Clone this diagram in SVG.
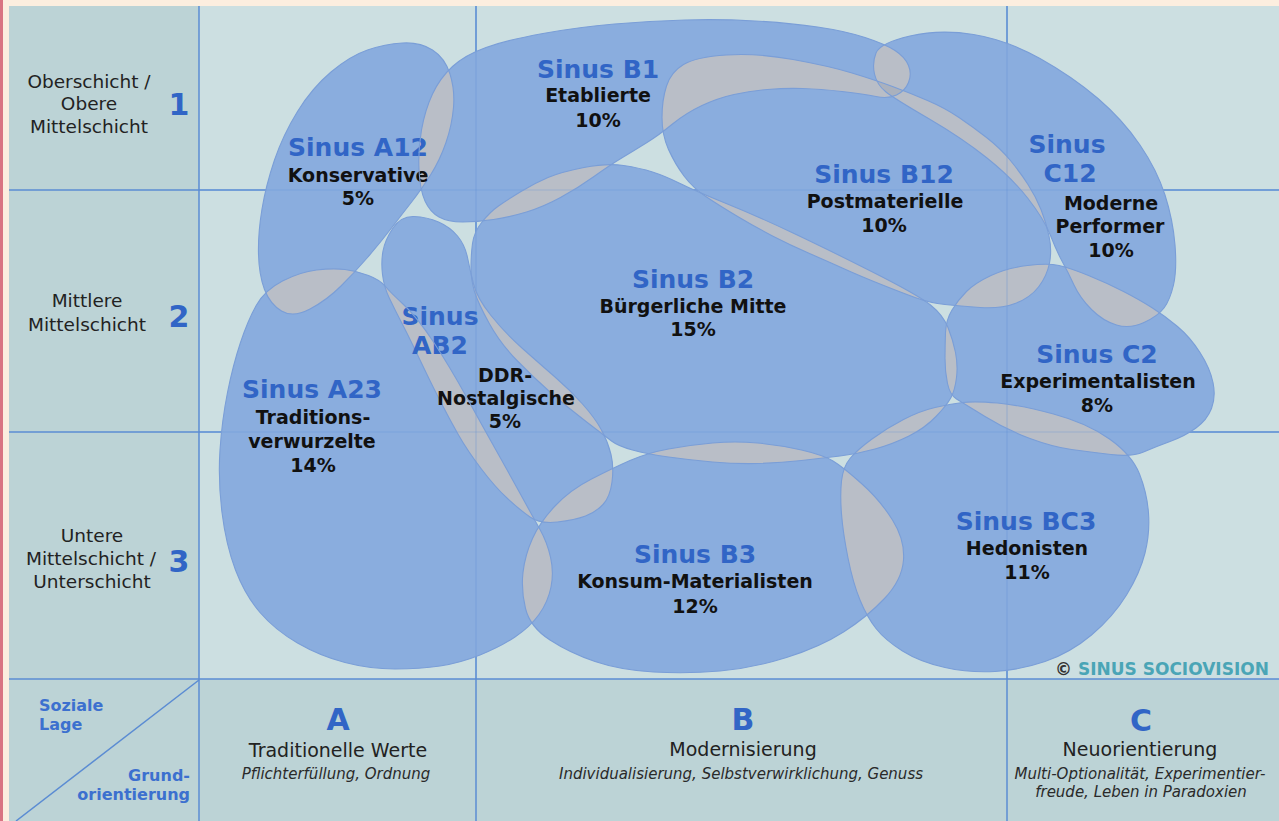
<svg xmlns="http://www.w3.org/2000/svg" width="1279" height="821" viewBox="0 0 1279 821">
<style>
.blob{fill:#8AADDE}
.ov{fill:#B9BEC7}
.ov3{fill:#AAB1BD}
.outline{fill:none;stroke:#7A9ED7;stroke-width:1.1}
.grid{stroke:#5B8CD3;stroke-width:1.5;fill:none}
.gridf{stroke:#5B8CD3;stroke-width:1.2;stroke-opacity:.3;fill:none}
text{font-family:"DejaVu Sans",Verdana,sans-serif}
.t{font-size:25px;font-weight:bold;fill:#3165C6;text-anchor:middle}
.s{font-size:19px;font-weight:bold;fill:#111;text-anchor:middle}
.row{font-size:18.5px;fill:#222;text-anchor:middle}
.num{font-size:30px;font-weight:bold;fill:#3165C6;text-anchor:middle}
.cat{font-size:19px;fill:#222;text-anchor:middle}
.it{font-size:15px;font-style:italic;fill:#2A2A2A;text-anchor:middle}
.lage{font-size:16px;font-weight:bold;fill:#3C70CF}
</style>
<defs>
<path id="s-A12" d="M331,72 Q350,56 367.5,50 Q385,44 402.5,43 Q420,42 432.5,50 Q445,58 450,74 Q455,90 453.5,107.5 Q452,125 446,142.5 Q440,160 430.5,175 Q421,190 412,201.5 Q403,213 391.5,228 Q380,243 367.5,257.5 Q355,272 341,286 Q327,300 310,309 Q293,318 281.5,311 Q270,304 264.5,289.5 Q259,275 258.5,254 Q258,233 262,209 Q266,185 274.5,160 Q283,135 297.5,111.5 Q312,88 331,72 Z"/>
<path id="s-B1" d="M419,170 Q418,150 421.5,130 Q425,110 432.5,94 Q440,78 452.5,66.5 Q465,55 486,47.5 Q507,40 543,33.5 Q579,27 614.5,24 Q650,21 685,20 Q720,19 755,21 Q790,23 817.5,27 Q845,31 865,37.5 Q885,44 895,50.5 Q905,57 908.5,65.5 Q912,74 908.5,82.5 Q905,91 896.5,95 Q888,99 876,96.5 Q864,94 842,91.5 Q820,89 802.5,88.5 Q785,88 767.5,89.5 Q750,91 734,94.5 Q718,98 702,105.5 Q686,113 672.5,124 Q659,135 647,142.5 Q635,150 622.5,157.5 Q610,165 594,176.5 Q578,188 560.5,197.5 Q543,207 526.5,212 Q510,217 493.5,219.5 Q477,222 462.5,222 Q448,222 439,217 Q430,212 425,201 Q420,190 419,170 Z"/>
<path id="s-B12" d="M662,117.5 Q662,100 666.5,86 Q671,72 683.5,64.5 Q696,57 726.5,55 Q757,53 793,59.5 Q829,66 852,73 Q875,80 892.5,86.5 Q910,93 927.5,100.5 Q945,108 959,117.5 Q973,127 986.5,137.5 Q1000,148 1010,160 Q1020,172 1028,184.5 Q1036,197 1041,209.5 Q1046,222 1049,236 Q1052,250 1049.5,263 Q1047,276 1038.5,287 Q1030,298 1015,303.5 Q1000,309 980,307.5 Q960,306 945,304.5 Q930,303 915,297.5 Q900,292 880,284 Q860,276 844.5,269 Q829,262 809.5,253.5 Q790,245 773.5,236.5 Q757,228 738.5,217 Q720,206 706.5,197 Q693,188 684,176 Q675,164 668.5,149.5 Q662,135 662,117.5 Z"/>
<path id="s-C12" d="M876,53 Q880,43 910,36 Q940,29 973.5,34.5 Q1007,40 1040,58.5 Q1073,77 1098,98.5 Q1123,120 1140,145 Q1157,170 1165,195 Q1173,220 1175,245 Q1177,270 1173.5,285 Q1170,300 1164,308 Q1158,316 1144,322.5 Q1130,329 1116.5,325 Q1103,321 1091.5,309.5 Q1080,298 1074,285 Q1068,272 1062.5,262 Q1057,252 1050.5,235.5 Q1044,219 1028,198.5 Q1012,178 987,158 Q962,138 928.5,118.5 Q895,99 886,92 Q877,85 874.5,74 Q872,63 876,53 Z"/>
<path id="s-C2" d="M945,358.5 Q945,345 945.5,332.5 Q946,320 952,310 Q958,300 966.5,291.5 Q975,283 991,275.5 Q1007,268 1027.5,265.5 Q1048,263 1059,265.5 Q1070,268 1088.5,275.5 Q1107,283 1123.5,291.5 Q1140,300 1152.5,308 Q1165,316 1177.5,326.5 Q1190,337 1200,352.5 Q1210,368 1213,382.5 Q1216,397 1211.5,408.5 Q1207,420 1196,428 Q1185,436 1170,441.5 Q1155,447 1143.5,452 Q1132,457 1111,454.5 Q1090,452 1071.5,449.5 Q1053,447 1030,438.5 Q1007,430 985,416.5 Q963,403 956.5,399 Q950,395 947.5,383.5 Q945,372 945,358.5 Z"/>
<path id="s-B2" d="M471,267.5 Q471,255 472.5,243.5 Q474,232 482,222 Q490,212 498.5,206 Q507,200 521,191.5 Q535,183 548,177.5 Q561,172 584,167.5 Q607,163 623.5,165.5 Q640,168 652.5,172 Q665,176 679,183 Q693,190 725,203 Q757,216 793,233 Q829,250 873.5,272.5 Q918,295 930.5,305 Q943,315 948,327.5 Q953,340 955.5,352.5 Q958,365 956.5,377.5 Q955,390 951,397.5 Q947,405 936,416.5 Q925,428 909,436 Q893,444 875,449 Q857,454 840,456 Q823,458 801.5,460.5 Q780,463 757.5,463.5 Q735,464 712.5,462 Q690,460 668.5,457 Q647,454 632.5,450 Q618,446 611.5,441 Q605,436 586,421.5 Q567,407 550,392 Q533,377 516.5,360 Q500,343 489,323 Q478,303 474.5,291.5 Q471,280 471,267.5 Z"/>
<path id="s-AB2" d="M383,251 Q385,240 393,228 Q401,216 414,216.5 Q427,217 438.5,222 Q450,227 457.5,236 Q465,245 467.5,257.5 Q470,270 473.5,284 Q477,298 491,315.5 Q505,333 522.5,348.5 Q540,364 555,377 Q570,390 582.5,404 Q595,418 601.5,430 Q608,442 611,454.5 Q614,467 612,482 Q610,497 603,504.5 Q596,512 585.5,516 Q575,520 557.5,522 Q540,524 530,517 Q520,510 507.5,498.5 Q495,487 481,468.5 Q467,450 458.5,435 Q450,420 441.5,403.5 Q433,387 426.5,373.5 Q420,360 413.5,346.5 Q407,333 401,321.5 Q395,310 389.5,298.5 Q384,287 382.5,274.5 Q381,262 383,251 Z"/>
<path id="s-A23" d="M256.5,305 Q265,290 282.5,281 Q300,272 316.5,270 Q333,268 345,269.5 Q357,271 368.5,275.5 Q380,280 385,286 Q390,292 403.5,304.5 Q417,317 433.5,342 Q450,367 466.5,397 Q483,427 496.5,451 Q510,475 521.5,496 Q533,517 540,529.5 Q547,542 550.5,557 Q554,572 551,587 Q548,602 539,614.5 Q530,627 515,637 Q500,647 480,655 Q460,663 440,666 Q420,669 395,669 Q370,669 345,662.5 Q320,656 297.5,643 Q275,630 260,612.5 Q245,595 235.5,570 Q226,545 222,512.5 Q218,480 220,450 Q222,420 227.5,392.5 Q233,365 240.5,342.5 Q248,320 256.5,305 Z"/>
<path id="s-B3" d="M532.5,538.5 Q540,522 555,506 Q570,490 591.5,479 Q613,468 630,460.5 Q647,453 668.5,449 Q690,445 712.5,443 Q735,441 757.5,443 Q780,445 801.5,450 Q823,455 833,461 Q843,467 861.5,483.5 Q880,500 892.5,520 Q905,540 903.5,560 Q902,580 884.5,598.5 Q867,617 843.5,632 Q820,647 786.5,657.5 Q753,668 720,671 Q687,674 653.5,672 Q620,670 595,661.5 Q570,653 550,640 Q530,627 525.5,608.5 Q521,590 523,572.5 Q525,555 532.5,538.5 Z"/>
<path id="s-BC3" d="M841.5,481 Q843,467 850,458.5 Q857,450 872,439 Q887,428 903.5,419.5 Q920,411 935,407.5 Q950,404 962.5,402.5 Q975,401 997.5,403 Q1020,405 1053.5,414 Q1087,423 1109.5,439 Q1132,455 1139.5,474 Q1147,493 1148.5,513 Q1150,533 1145,553 Q1140,573 1126.5,595 Q1113,617 1091.5,635 Q1070,653 1045,661.5 Q1020,670 995,671.5 Q970,673 945,667.5 Q920,662 902.5,651 Q885,640 876,628.5 Q867,617 860,600 Q853,583 848,558 Q843,533 841.5,514 Q840,495 841.5,481 Z"/>
<clipPath id="c-A12"><use href="#s-A12"/></clipPath>
<clipPath id="c-B1"><use href="#s-B1"/></clipPath>
<clipPath id="c-B12"><use href="#s-B12"/></clipPath>
<clipPath id="c-C12"><use href="#s-C12"/></clipPath>
<clipPath id="c-C2"><use href="#s-C2"/></clipPath>
<clipPath id="c-B2"><use href="#s-B2"/></clipPath>
<clipPath id="c-AB2"><use href="#s-AB2"/></clipPath>
<clipPath id="c-A23"><use href="#s-A23"/></clipPath>
<clipPath id="c-B3"><use href="#s-B3"/></clipPath>
</defs>

<g id="background">
<rect x="0" y="0" width="1279" height="821" fill="#FCEEDF"/>
<rect x="0" y="0" width="3" height="821" fill="#D97482"/>
<rect x="9" y="6" width="1270" height="815" fill="#CCDFE1"/>
<rect x="9" y="6" width="190" height="673" fill="#BCD3D6"/>
<rect x="9" y="679" width="1270" height="142" fill="#BCD3D6"/>
</g>

<g id="grid" class="grid">
<line x1="9" y1="190" x2="1279" y2="190"/>
<line x1="9" y1="432" x2="1279" y2="432"/>
<line x1="9" y1="679" x2="1279" y2="679"/>
<line x1="199" y1="6" x2="199" y2="821"/>
<line x1="476" y1="6" x2="476" y2="821"/>
<line x1="1007" y1="6" x2="1007" y2="821"/>
<line x1="199" y1="680" x2="16" y2="821"/>
</g>

<g id="fills">
<use href="#s-A12" class="blob"/>
<use href="#s-B1" class="blob"/>
<use href="#s-B12" class="blob"/>
<use href="#s-C12" class="blob"/>
<use href="#s-C2" class="blob"/>
<use href="#s-B2" class="blob"/>
<use href="#s-AB2" class="blob"/>
<use href="#s-A23" class="blob"/>
<use href="#s-B3" class="blob"/>
<use href="#s-BC3" class="blob"/>
</g>

<g id="overlaps">
<use href="#s-B1" class="ov" clip-path="url(#c-A12)"/>
<use href="#s-A23" class="ov" clip-path="url(#c-A12)"/>
<use href="#s-B2" class="ov" clip-path="url(#c-B1)"/>
<use href="#s-B12" class="ov" clip-path="url(#c-B1)"/>
<use href="#s-C12" class="ov" clip-path="url(#c-B1)"/>
<use href="#s-C12" class="ov" clip-path="url(#c-B12)"/>
<use href="#s-B2" class="ov" clip-path="url(#c-B12)"/>
<use href="#s-C2" class="ov" clip-path="url(#c-B12)"/>
<use href="#s-AB2" class="ov" clip-path="url(#c-B2)"/>
<use href="#s-C2" class="ov" clip-path="url(#c-B2)"/>
<use href="#s-BC3" class="ov" clip-path="url(#c-B2)"/>
<use href="#s-B3" class="ov" clip-path="url(#c-B2)"/>
<use href="#s-A23" class="ov" clip-path="url(#c-AB2)"/>
<use href="#s-B3" class="ov" clip-path="url(#c-AB2)"/>
<use href="#s-B3" class="ov" clip-path="url(#c-A23)"/>
<use href="#s-BC3" class="ov" clip-path="url(#c-B3)"/>
<use href="#s-BC3" class="ov" clip-path="url(#c-C2)"/>
<use href="#s-C2" class="ov" clip-path="url(#c-C12)"/>
<g clip-path="url(#c-C12)"><use href="#s-B12" class="ov3" clip-path="url(#c-B1)"/></g>
</g>

<g id="grid-faint" class="gridf">
<line x1="199" y1="190" x2="1279" y2="190"/>
<line x1="199" y1="432" x2="1279" y2="432"/>
<line x1="476" y1="6" x2="476" y2="679"/>
<line x1="1007" y1="6" x2="1007" y2="679"/>
</g>

<g id="node-A12"><use href="#s-A12" class="outline"/>
<text class="t" x="358" y="156">Sinus A12</text>
<text class="s" x="358" y="182">Konservative</text>
<text class="s" x="358" y="205">5%</text></g>

<g id="node-B1"><use href="#s-B1" class="outline"/>
<text class="t" x="598" y="78">Sinus B1</text>
<text class="s" x="598" y="102">Etablierte</text>
<text class="s" x="598" y="127">10%</text></g>

<g id="node-B12"><use href="#s-B12" class="outline"/>
<text class="t" x="884" y="183">Sinus B12</text>
<text class="s" x="885" y="208">Postmaterielle</text>
<text class="s" x="884" y="232">10%</text></g>

<g id="node-C12"><use href="#s-C12" class="outline"/>
<text class="t" x="1067" y="153">Sinus</text>
<text class="t" x="1070" y="182">C12</text>
<text class="s" x="1111" y="210">Moderne</text>
<text class="s" x="1110" y="233">Performer</text>
<text class="s" x="1111" y="257">10%</text></g>

<g id="node-B2"><use href="#s-B2" class="outline"/>
<text class="t" x="693" y="288">Sinus B2</text>
<text class="s" x="693" y="313">Bürgerliche Mitte</text>
<text class="s" x="693" y="336">15%</text></g>

<g id="node-AB2"><use href="#s-AB2" class="outline"/>
<text class="t" x="440" y="325">Sinus</text>
<text class="t" x="440" y="354">AB2</text>
<text class="s" x="505" y="382">DDR-</text>
<text class="s" x="506" y="405">Nostalgische</text>
<text class="s" x="505" y="428">5%</text></g>

<g id="node-A23"><use href="#s-A23" class="outline"/>
<text class="t" x="312" y="398">Sinus A23</text>
<text class="s" x="313" y="424">Traditions-</text>
<text class="s" x="312" y="448">verwurzelte</text>
<text class="s" x="313" y="472">14%</text></g>

<g id="node-C2"><use href="#s-C2" class="outline"/>
<text class="t" x="1097" y="363">Sinus C2</text>
<text class="s" x="1098" y="388">Experimentalisten</text>
<text class="s" x="1097" y="412">8%</text></g>

<g id="node-B3"><use href="#s-B3" class="outline"/>
<text class="t" x="695" y="563">Sinus B3</text>
<text class="s" x="695" y="588">Konsum-Materialisten</text>
<text class="s" x="695" y="613">12%</text></g>

<g id="node-BC3"><use href="#s-BC3" class="outline"/>
<text class="t" x="1026" y="530">Sinus BC3</text>
<text class="s" x="1027" y="555">Hedonisten</text>
<text class="s" x="1027" y="579">11%</text></g>

<g id="rows">
<text class="row" x="89" y="88">Oberschicht /</text>
<text class="row" x="89" y="110">Obere</text>
<text class="row" x="89" y="133">Mittelschicht</text>
<text class="num" x="179" y="115">1</text>
<text class="row" x="87" y="307">Mittlere</text>
<text class="row" x="87" y="331">Mittelschicht</text>
<text class="num" x="179" y="327">2</text>
<text class="row" x="92" y="542">Untere</text>
<text class="row" x="91" y="565">Mittelschicht /</text>
<text class="row" x="92" y="588">Unterschicht</text>
<text class="num" x="179" y="572">3</text>
</g>

<g id="columns">
<text class="lage" x="39" y="711">Soziale</text>
<text class="lage" x="39" y="730">Lage</text>
<text class="lage" x="190" y="781" text-anchor="end">Grund-</text>
<text class="lage" x="190" y="800" text-anchor="end">orientierung</text>
<text class="num" x="338" y="730">A</text>
<text class="cat" x="338" y="757">Traditionelle Werte</text>
<text class="it" x="336" y="779">Pflichterfüllung, Ordnung</text>
<text class="num" x="743" y="730">B</text>
<text class="cat" x="743" y="756">Modernisierung</text>
<text class="it" x="741" y="779">Individualisierung, Selbstverwirklichung, Genuss</text>
<text class="num" x="1141" y="731">C</text>
<text class="cat" x="1140" y="756">Neuorientierung</text>
<text class="it" x="1140" y="779">Multi-Optionalität, Experimentier-</text>
<text class="it" x="1141" y="797">freude, Leben in Paradoxien</text>
</g>

<text x="1055" y="675" font-size="17" font-weight="bold"><tspan fill="#333">©</tspan><tspan fill="#4AA5B6"> SINUS SOCIOVISION</tspan></text>
</svg>
